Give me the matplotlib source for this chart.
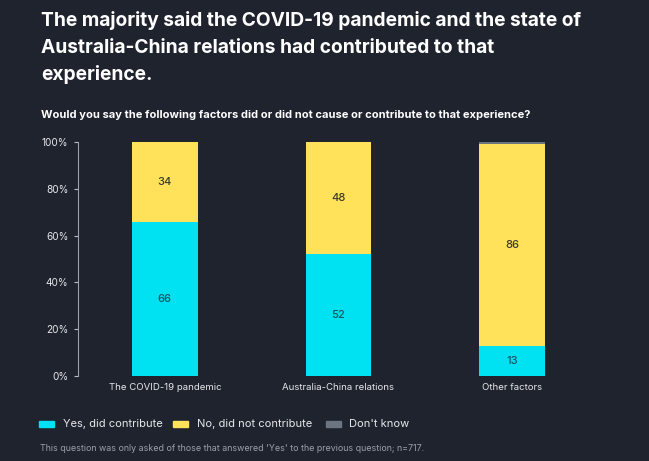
import matplotlib
matplotlib.use("Agg")

import numpy as np
import matplotlib.pyplot as plt
from matplotlib.patches import Rectangle

# Data
categories = ["The COVID-19 pandemic", "Australia-China relations", "Other factors"]
yes_vals = [66, 52, 13]
no_vals = [34, 48, 86]
dk_vals = [0, 0, 1]
series_names = ["Yes, did contribute", "No, did not contribute", "Don't know"]
yticks = [0, 20, 40, 60, 80, 100]
title_lines = ["The majority said the COVID-19 pandemic and the state of",
               "Australia-China relations had contributed to that",
               "experience."]

BG = "#1f232e"
CYAN = "#00e1f2"
YELLOW = "#ffe15a"
GREY = "#6c7480"
W, H = 649, 461

plt.rcParams["font.family"] = ["Inter", "DejaVu Sans"]

fig = plt.figure(figsize=(W / 100, H / 100), dpi=100, facecolor=BG)
ax = fig.add_axes([78 / W, 85 / H, 521 / W, 234 / H])
ax.set_facecolor(BG)

x = np.arange(len(categories))
width = 0.38
yes = np.array(yes_vals)
no = np.array(no_vals)
dk = np.array(dk_vals)

ax.bar(x, yes, width, color=CYAN, label=series_names[0])
ax.bar(x, no, width, bottom=yes, color=YELLOW, label=series_names[1])
ax.bar(x, dk, width, bottom=yes + no, color=GREY, label=series_names[2])

for i in range(len(x)):
    ax.text(x[i], yes[i] / 2, str(yes[i]), ha="center", va="center",
            fontsize=8, fontweight="medium", color="#17535e")
    ax.text(x[i], yes[i] + no[i] / 2, str(no[i]), ha="center", va="center",
            fontsize=8, fontweight="medium", color="#3a3a30")

ax.set_xlim(-0.5, 2.5)
ax.set_ylim(0, 100)
ax.set_yticks(yticks)
ax.set_yticklabels([f"{t}%" for t in yticks])
ax.set_xticks(x)
ax.set_xticklabels(categories)
ax.tick_params(axis="y", colors="#b8bcc4", labelcolor="#e6e8ec", labelsize=7.2,
               length=3, width=0.8, pad=4)
ax.tick_params(axis="x", length=0, labelcolor="#e6e8ec", labelsize=6.9, pad=5)
for s in ["top", "right", "bottom"]:
    ax.spines[s].set_visible(False)
ax.spines["left"].set_color("#9aa0a8")
ax.spines["left"].set_linewidth(0.8)

# Title, one line at a time
for k, line in enumerate(title_lines):
    fig.text(41 / W, 1 - (26 + 27 * k) / H, line, ha="left", va="baseline",
             fontsize=13.8, fontweight="bold", color="white")
fig.text(41 / W, 1 - 118 / H,
         "Would you say the following factors did or did not cause or contribute to that experience?",
         ha="left", va="baseline", fontsize=8, fontweight="bold", color="white")

# Legend drawn manually
leg_y = 1 - 424 / H
leg_items = [(39, 63, CYAN, series_names[0]),
             (173, 197, YELLOW, series_names[1]),
             (326, 349, GREY, series_names[2])]
for sx, tx, col, name in leg_items:
    fig.patches.append(Rectangle((sx / W, leg_y - 3 / H), 15 / W, 6 / H,
                                 transform=fig.transFigure, color=col))
    fig.text(tx / W, leg_y, name, ha="left", va="center", fontsize=8,
             color="#e6e8ec")

fig.text(40 / W, 1 - 448 / H,
         "This question was only asked of those that answered 'Yes' to the previous question; n=717.",
         ha="left", va="center", fontsize=6.4, color="#9aa0a8")

fig.savefig("out.png", dpi=100, facecolor=BG)
